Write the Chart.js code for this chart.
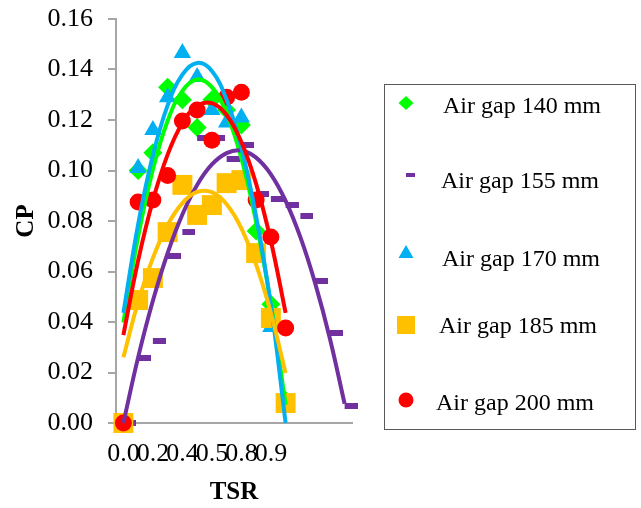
<!DOCTYPE html>
<html>
<head>
<meta charset="utf-8">
<script src="https://cdn.jsdelivr.net/npm/chart.js@4/dist/chart.umd.min.js"></script>
<style>
  html, body { margin: 0; padding: 0; background: #ffffff; }
  #wrap { width: 641px; height: 508px; }
</style>
</head>
<body>
<div id="wrap"><canvas id="cpChart" width="641" height="508"></canvas></div>
<script>
// ---- data -------------------------------------------------------------
// Measurement positions along the TSR axis (evenly spaced categories)
const pointIndex12 = [0, 1, 2, 3, 4, 5, 6, 7, 8, 9, 10, 11];
const pointIndex16 = [0, 1, 2, 3, 4, 5, 6, 7, 8, 9, 10, 11, 12, 13, 14, 15];

// Labelled TSR ticks
const tickPositions = [0, 2, 4, 6, 8, 10];
const tickLabels = ['0.0', '0.2', '0.4', '0.5', '0.8', '0.9'];
const cpTicks = [0, 0.02, 0.04, 0.06, 0.08, 0.10, 0.12, 0.14, 0.16];

const seriesNames = ['Air gap 140 mm', 'Air gap 155 mm', 'Air gap 170 mm', 'Air gap 185 mm', 'Air gap 200 mm'];

// Measured power coefficient
const cp140 = [0, 0.100, 0.107, 0.133, 0.128, 0.117, 0.128, 0.124, 0.118, 0.076, 0.047, 0.009];
const cp155 = [0, 0.0257, 0.0325, 0.066, 0.0756, 0.113, 0.113, 0.1045, 0.110, 0.0907, 0.0887, 0.0863, 0.082, 0.0562, 0.0356, 0.0067];
const cp170 = [0, 0.101, 0.116, 0.129, 0.1465, 0.137, 0.124, 0.119, 0.121, 0.067, 0.038, 0.008];
const cp185 = [0, 0.0487, 0.0574, 0.0756, 0.0943, 0.0824, 0.0863, 0.095, 0.0962, 0.0673, 0.0416, 0.0079];
const cp200 = [0, 0.0875, 0.0883, 0.098, 0.1196, 0.124, 0.112, 0.129, 0.131, 0.0883, 0.0737, 0.0376];

// Polynomial trend curves
const trend140 = [0.0398, 0.0738, 0.1004, 0.1197, 0.1315, 0.136, 0.133, 0.1226, 0.1049, 0.0797, 0.0472, 0.0072];
const trend155 = [0.0, 0.026, 0.0484, 0.0673, 0.0826, 0.0943, 0.1024, 0.1069, 0.1079, 0.1051, 0.0985, 0.088, 0.0736, 0.0554, 0.0335, 0.0076];
const trend170 = [0.0436, 0.0787, 0.106, 0.1258, 0.138, 0.1426, 0.1394, 0.128, 0.109, 0.0818, 0.0466, 0.0];
const trend185 = [0.026, 0.0479, 0.0653, 0.0784, 0.0871, 0.0915, 0.0914, 0.0866, 0.0771, 0.0627, 0.0436, 0.0198];
const trend200 = [0.0348, 0.0643, 0.0881, 0.1063, 0.1188, 0.1256, 0.1267, 0.122, 0.1113, 0.0947, 0.0721, 0.0436];

// ---- styling ----------------------------------------------------------
const SERIF = '"Liberation Serif", "Times New Roman", Times, serif';
const colors = ['#00FF00', '#7030A0', '#00B0F0', '#FFC000', '#FF0000'];

// Dash marker: a short bar that starts at the point and runs to the right
function dashMarker(color, w, h) {
  const c = document.createElement('canvas');
  c.width = w * 2;
  c.height = h;
  const g = c.getContext('2d');
  g.fillStyle = color;
  g.fillRect(w, 0, w, h);
  return c;
}

const markerStyles = [
  { pointStyle: 'rectRot', radius: 9.5 },
  { pointStyle: dashMarker(colors[1], 13, 6), radius: 7 },
  { pointStyle: 'triangle', radius: 10 },
  { pointStyle: 'rect', radius: 14.1 },
  { pointStyle: 'circle', radius: 8.5 }
];

const measured = [
  [pointIndex12, cp140], [pointIndex16, cp155], [pointIndex12, cp170],
  [pointIndex12, cp185], [pointIndex12, cp200]
];
const trends = [
  [pointIndex12, trend140], [pointIndex16, trend155], [pointIndex12, trend170],
  [pointIndex12, trend185], [pointIndex12, trend200]
];

const toPoints = (xs, ys) => ys.map((y, k) => ({ x: xs[k], y: y }));

const datasets = [];
measured.forEach(([xs, ys], k) => {
  datasets.push({
    label: seriesNames[k],
    data: toPoints(xs, ys),
    showLine: false,
    pointStyle: markerStyles[k].pointStyle,
    pointRadius: markerStyles[k].radius,
    pointBackgroundColor: colors[k],
    pointBorderColor: colors[k],
    pointBorderWidth: 0,
    order: 20 - k,
    clip: false
  });
});
trends.forEach(([xs, ys], k) => {
  datasets.push({
    label: seriesNames[k] + ' trend',
    data: toPoints(xs, ys),
    showLine: true,
    borderColor: colors[k],
    borderWidth: 4,
    tension: 0.4,
    pointRadius: 0,
    fill: false,
    order: 10 - k,
    clip: false
  });
});

// Boxed legend on the right of the plot
const boxedLegend = {
  id: 'boxedLegend',
  afterDraw(chart) {
    const ctx = chart.ctx;
    ctx.save();
    ctx.strokeStyle = '#595959';
    ctx.lineWidth = 1;
    ctx.strokeRect(384.5, 84.5, 251, 345);

    const rows = [
      { mx: 406, my: 103, tx: 443, ty: 113 },
      { mx: 406, my: 175, tx: 441, ty: 188 },
      { mx: 406, my: 252, tx: 442, ty: 266 },
      { mx: 406, my: 325, tx: 439, ty: 333 },
      { mx: 406, my: 400, tx: 436, ty: 410 }
    ];
    rows.forEach((r, k) => {
      ctx.fillStyle = colors[k];
      ctx.beginPath();
      if (k === 0) {
        ctx.moveTo(r.mx, r.my - 7); ctx.lineTo(r.mx + 7.5, r.my);
        ctx.lineTo(r.mx, r.my + 7); ctx.lineTo(r.mx - 7.5, r.my);
        ctx.closePath(); ctx.fill();
      } else if (k === 1) {
        ctx.fillRect(r.mx, r.my - 2, 9, 4);
      } else if (k === 2) {
        ctx.moveTo(r.mx, r.my - 7); ctx.lineTo(r.mx + 7.5, r.my + 6);
        ctx.lineTo(r.mx - 7.5, r.my + 6); ctx.closePath(); ctx.fill();
      } else if (k === 3) {
        ctx.fillRect(r.mx - 9, r.my - 9, 18, 18);
      } else {
        ctx.arc(r.mx, r.my, 7.5, 0, Math.PI * 2); ctx.fill();
      }
      ctx.fillStyle = '#000000';
      ctx.font = '24px ' + SERIF;
      ctx.textBaseline = 'alphabetic';
      ctx.textAlign = 'left';
      ctx.fillText(seriesNames[k], r.tx, r.ty);
    });
    ctx.restore();
  }
};

new Chart(document.getElementById('cpChart'), {
  type: 'scatter',
  data: { datasets: datasets },
  plugins: [boxedLegend],
  options: {
    responsive: false,
    devicePixelRatio: 1,
    animation: false,
    events: [],
    layout: { padding: { left: 0, top: 19, right: 289, bottom: 0 } },
    plugins: { legend: { display: false }, tooltip: { enabled: false } },
    scales: {
      x: {
        type: 'linear',
        min: -0.5,
        max: 15.5,
        afterBuildTicks: s => { s.ticks = tickPositions.map(v => ({ value: v })); },
        afterFit: s => { s.height = 85; },
        grid: { display: true, drawOnChartArea: false, drawTicks: false },
        border: { display: true, color: '#A6A6A6', width: 2 },
        ticks: {
          autoSkip: false, maxRotation: 0, minRotation: 0, padding: 16, color: '#000000',
          font: { family: SERIF, size: 26 },
          callback: v => { const k = tickPositions.indexOf(v); return k < 0 ? '' : tickLabels[k]; }
        },
        title: {
          display: true, text: 'TSR', color: '#000000',
          font: { family: SERIF, size: 25, weight: 'bold' },
          padding: { top: 0, bottom: 0 }
        }
      },
      y: {
        type: 'linear',
        min: 0,
        max: 0.16,
        afterBuildTicks: s => { s.ticks = cpTicks.map(v => ({ value: v })); },
        afterFit: s => { s.width = 116; s.paddingTop = 0; s.paddingBottom = 0; },
        grid: { display: true, drawOnChartArea: false, drawTicks: true, tickLength: 8, color: '#A6A6A6', lineWidth: 2 },
        border: { display: true, color: '#A6A6A6', width: 2 },
        ticks: {
          padding: 15, color: '#000000',
          font: { family: SERIF, size: 26 },
          callback: v => Number(v).toFixed(2)
        },
        title: {
          display: true, text: 'CP', color: '#000000',
          font: { family: SERIF, size: 25, weight: 'bold' },
          padding: { top: 12, bottom: 0 }
        }
      }
    }
  }
});
</script>
</body>
</html>
